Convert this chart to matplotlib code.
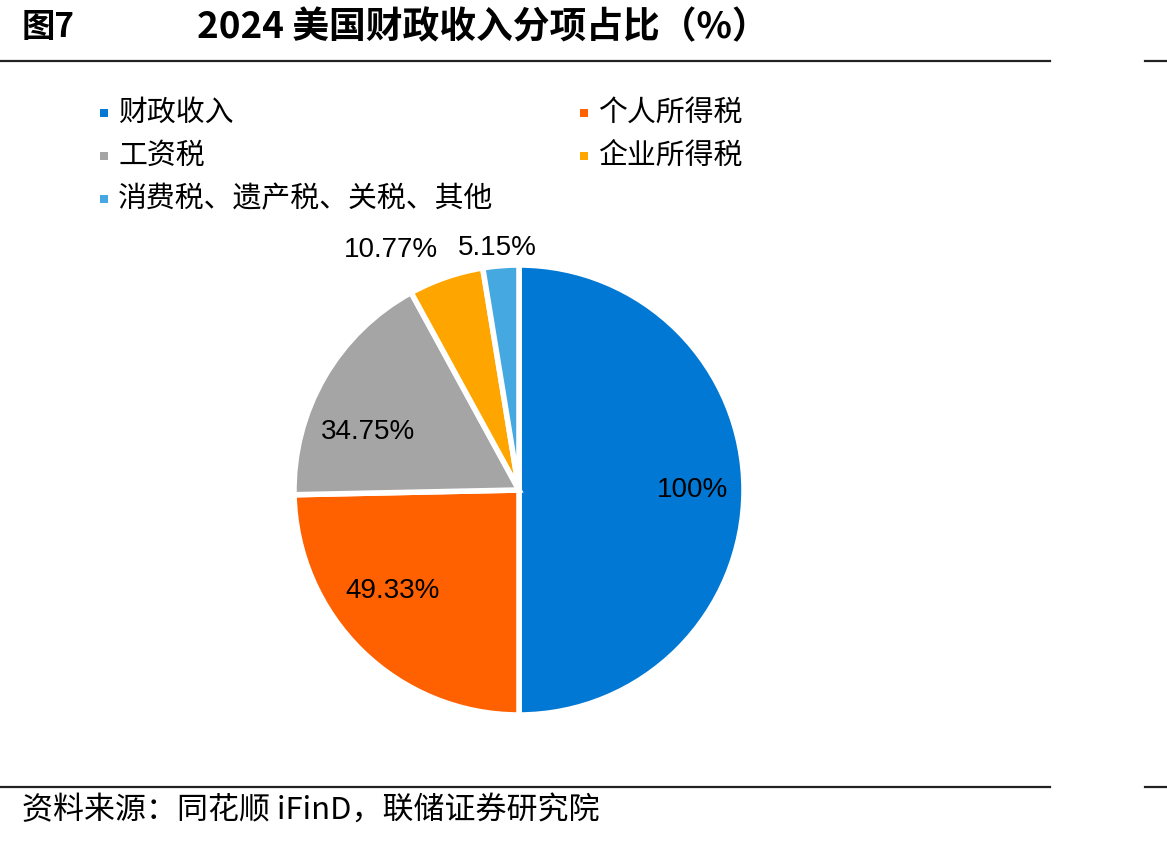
import matplotlib
matplotlib.use("Agg")
import matplotlib.pyplot as plt
from matplotlib.lines import Line2D
from matplotlib.patches import Rectangle
import numpy as np

plt.rcParams['font.family'] = ['Noto Sans CJK SC', 'DejaVu Sans']

categories = ['财政收入', '个人所得税', '工资税', '企业所得税', '消费税、遗产税、关税、其他']
values = [100, 49.33, 34.75, 10.77, 5.15]
value_labels = ['100%', '49.33%', '34.75%', '10.77%', '5.15%']
colors = ['#0078D4', '#FF6000', '#A5A5A5', '#FFA500', '#45A8E0']

title_left = '图7'
title_main = '2024 美国财政收入分项占比（%）'
source = '资料来源：同花顺 iFinD，联储证券研究院'

W, H = 1167, 843
fig = plt.figure(figsize=(W / 100, H / 100), dpi=100)

def fx(px):
    return px / W

def fy(py):
    return 1 - py / H

# Title
fig.text(fx(22), fy(28), title_left, fontsize=24, fontweight='bold', va='center', ha='left')
fig.text(fx(197), fy(28), title_main, fontsize=26.5, fontweight='bold', va='center', ha='left')

# Horizontal rules
for y in (61, 787):
    fig.add_artist(Line2D([0, fx(1050)], [fy(y), fy(y)], color='#222222', lw=1.6))
    fig.add_artist(Line2D([fx(1145), 1], [fy(y), fy(y)], color='#222222', lw=1.6))

# Source
fig.text(fx(22), fy(810), source, fontsize=22.3, va='center', ha='left')

# Legend (manual, row-wise like the reference)
leg_pos = [(104, 113), (584, 113), (104, 156), (584, 156), (104, 199)]
sq = 8
for (px, py), lab, c in zip(leg_pos, categories, colors):
    fig.add_artist(Rectangle((fx(px - sq / 2), fy(py + sq / 2)), sq / W, sq / H,
                             facecolor=c, edgecolor='none', transform=fig.transFigure))
    fig.text(fx(px + 14), fy(py), lab, fontsize=20.8, va='center', ha='left')

# Pie
cx, cy, R = 519, 490, 225
ax = fig.add_axes([fx(cx - R), fy(cy + R), 2 * R / W, 2 * R / H])
wedges, _ = ax.pie(values, colors=colors, startangle=90, counterclock=False,
                   radius=1.0, wedgeprops=dict(edgecolor='white', linewidth=4))
ax.set_xlim(-1, 1)
ax.set_ylim(-1, 1)
ax.set_aspect('equal')
ax.axis('off')

# label placement (distance, angle offset in degrees from wedge mid)
label_layout = [(0.77, 0), (0.72, -7), (0.72, 9), (1.21, 9), (1.08, 0.5)]
for w, lab, (d, off) in zip(wedges, value_labels, label_layout):
    mid = np.deg2rad((w.theta1 + w.theta2) / 2 + off)
    ax.text(d * np.cos(mid), d * np.sin(mid), lab, fontsize=20,
            family=['Liberation Sans', 'DejaVu Sans'], ha='center', va='center', clip_on=False)

fig.savefig('out.png', dpi=100)
